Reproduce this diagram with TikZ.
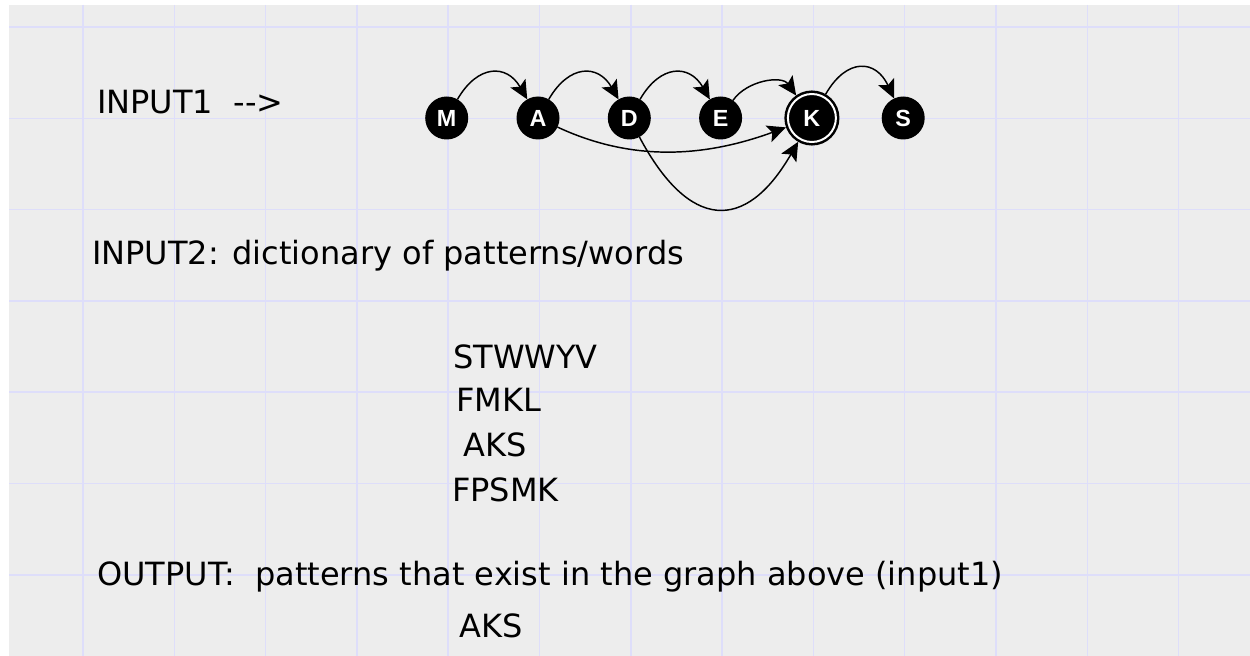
\documentclass[tikz,border=0pt]{standalone}
\usepackage{fontspec}
\setmainfont{DejaVu Sans}
\newfontfamily\nodefont{Liberation Sans}
\usetikzlibrary{arrows.meta}

\definecolor{paper}{RGB}{237,237,237}
\definecolor{gridblue}{RGB}{222,222,250}

\tikzset{
  vertex/.style={circle, fill=black, inner sep=0pt, outer sep=0pt,
    minimum size=32.25pt, text=white, font=\nodefont\fontsize{17.5}{17.5}\selectfont\bfseries},
  finalvertex/.style={vertex, minimum size=36pt, draw=black, line width=1.9pt,
    double=white, double distance=1.5pt, outer sep=2.6pt},
  link/.style={line width=1.1pt, -{Stealth[length=14pt, width=13pt, inset=3pt]}},
  label/.style={anchor=base west, inner sep=0pt, font=\fontsize{24}{28}\selectfont},
}

\begin{document}
\begin{tikzpicture}[x=0.75pt, y=0.75pt]
  % canvas: white edge at top and left, grey sheet with a light grid
  \useasboundingbox (0,0) rectangle (1250,-656);
  \fill[white] (0,0) rectangle (1250,-656);
  \fill[paper] (9,-5) rectangle (1250,-656);
  \begin{scope}[gridblue, line width=1.1pt]
    \foreach \k in {0,...,12} {
      \draw (83+91.3*\k,-5) -- (83+91.3*\k,-656);
    }
    \foreach \k in {0,...,6} {
      \draw (9,-27+-91.3*\k) -- (1250,-27+-91.3*\k);
    }
  \end{scope}

  % graph of letters
  \node[vertex] (M) at (446.7,-118) {M};
  \node[vertex] (A) at (538.0,-118) {A};
  \node[vertex] (D) at (629.3,-118) {D};
  \node[vertex] (E) at (720.6,-118) {E};
  \node[finalvertex] (K) at (811.9,-118) {K};
  \node[vertex] (S) at (903.2,-118) {S};

  \draw[link] (M) to[out=60, in=120, looseness=1.5] (A);
  \draw[link] (A) to[out=60, in=120, looseness=1.5] (D);
  \draw[link] (D) to[out=60, in=120, looseness=1.5] (E);
  \draw[link] (E) to[out=55, in=125, looseness=1.0] (K);
  \draw[link] (K) to[out=60, in=115, looseness=1.6] (S);
  \draw[link] (A) to[out=-25, in=200, looseness=0.95] (K);
  \draw[link] (D) to[out=-62, in=240, looseness=1.7] (K);

  % texts
  \node[label] (in1) at (97,-114) {INPUT1\ \ -{}->};
  \node[label] (in2) at (92,-264) {INPUT2: dictionary of patterns/words};
  \node[label] (w1) at (453,-368) {STWWYV};
  \node[label] (w2) at (456,-411) {FMKL};
  \node[label] (w3) at (463,-456) {AKS};
  \node[label] (w4) at (452,-501) {FPSMK};
  \node[label] (out) at (97,-585) {OUTPUT:\ \ patterns that exist in the graph above (input1)};
  \node[label] (res) at (459,-637) {AKS};
\end{tikzpicture}
\end{document}
